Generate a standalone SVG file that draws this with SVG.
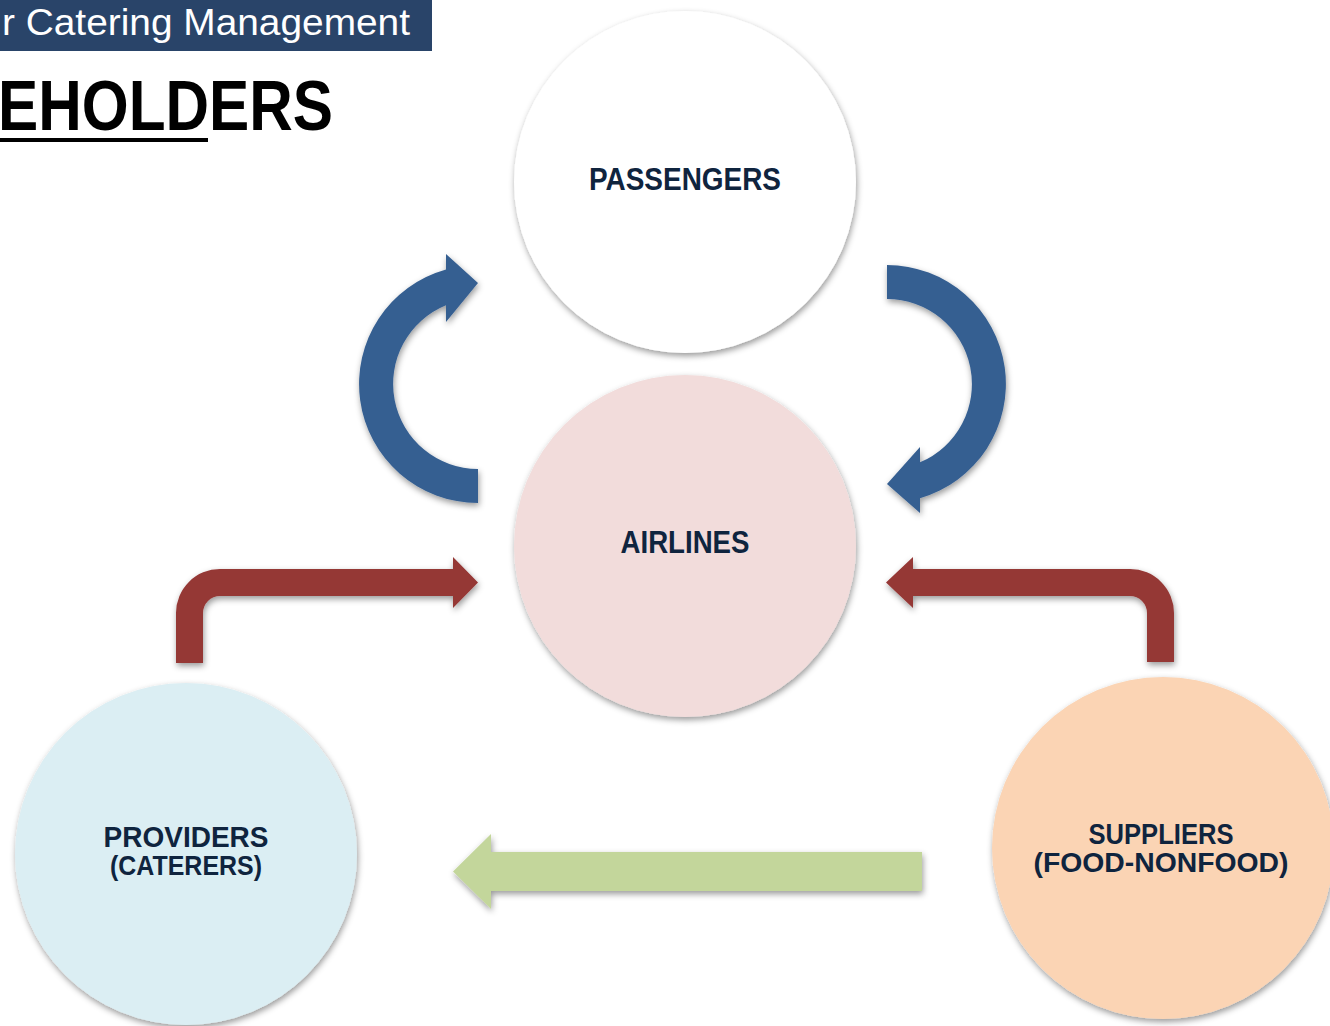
<svg xmlns="http://www.w3.org/2000/svg" width="1330" height="1026" viewBox="0 0 1330 1026">
  <defs>
    <filter id="shadow" x="-20%" y="-20%" width="140%" height="140%">
      <feDropShadow dx="1" dy="3" stdDeviation="3" flood-color="#000" flood-opacity="0.4"/>
    </filter>
  </defs>
  <style>
    .node { stroke: none; filter: url(#shadow); }
    .label { font-family: "Liberation Sans", Arial, sans-serif; font-weight: bold; fill: #0f243e; text-anchor: middle; }
    .blue { fill: #365f91; filter: url(#shadow); }
    .red { fill: #953735; filter: url(#shadow); }
    .green { fill: #c3d69b; filter: url(#shadow); }
  </style>

  <rect width="1330" height="1026" fill="#ffffff"/>

  <!-- page header -->
  <g id="header">
    <rect x="0" y="0" width="432" height="51" fill="#294469"/>
    <text x="2" y="35" font-family="'Liberation Sans', Arial, sans-serif" font-size="37" fill="#ffffff" textLength="408" lengthAdjust="spacingAndGlyphs">r Catering Management</text>
  </g>
  <g id="title">
    <text x="-2" y="130" font-family="'Liberation Sans', Arial, sans-serif" font-weight="bold" font-size="70" fill="#000000" textLength="335" lengthAdjust="spacingAndGlyphs">EHOLDERS</text>
    <rect x="0" y="138" width="208" height="4" fill="#000000"/>
  </g>

  <!-- connectors -->
  <g id="connectors">
    <path class="blue" d="M446,269.4 A119,119 0 0 0 478,503 L478,469 A85,85 0 0 1 446,305.3 L446,322 L478,283 L446,254 Z"/>
    <path class="blue" d="M887,265 A119,119 0 0 1 920,498.3 L920,513 L887,484 L920,447 L920,462.3 A85,85 0 0 0 887,299 Z"/>
    <path class="red" d="M176,663 L176,613 A44,44 0 0 1 220,569 L453,569 L453,557 L478,582.5 L453,608 L453,596 L220,596 A17,17 0 0 0 203,613 L203,663 Z"/>
    <path class="red" d="M1174,662 L1174,613 A44,44 0 0 0 1130,569 L913,569 L913,557 L886,582.5 L913,608 L913,596 L1130,596 A17,17 0 0 1 1147,613 L1147,662 Z"/>
    <path class="green" d="M922,852 L491,852 L491,834 L453,871.5 L491,909 L491,891 L922,891 Z"/>
  </g>

  <!-- nodes -->
  <g id="passengers">
    <circle class="node" cx="685" cy="182" r="171" fill="#ffffff"/>
    <text class="label" x="685" y="190" font-size="31" textLength="192" lengthAdjust="spacingAndGlyphs">PASSENGERS</text>
  </g>
  <g id="airlines">
    <circle class="node" cx="685" cy="546" r="171" fill="#f2dcdb"/>
    <text class="label" x="685" y="553" font-size="31" textLength="129" lengthAdjust="spacingAndGlyphs">AIRLINES</text>
  </g>
  <g id="providers">
    <circle class="node" cx="186" cy="854" r="171" fill="#dbeef3"/>
    <text class="label" x="186" y="847" font-size="29" textLength="165" lengthAdjust="spacingAndGlyphs">PROVIDERS</text>
    <text class="label" x="186" y="875" font-size="28" textLength="152" lengthAdjust="spacingAndGlyphs">(CATERERS)</text>
  </g>
  <g id="suppliers">
    <circle class="node" cx="1163" cy="848" r="171" fill="#fbd4b4"/>
    <text class="label" x="1161" y="844" font-size="29" textLength="145" lengthAdjust="spacingAndGlyphs">SUPPLIERS</text>
    <text class="label" x="1161" y="872" font-size="28" textLength="255" lengthAdjust="spacingAndGlyphs">(FOOD-NONFOOD)</text>
  </g>
</svg>
